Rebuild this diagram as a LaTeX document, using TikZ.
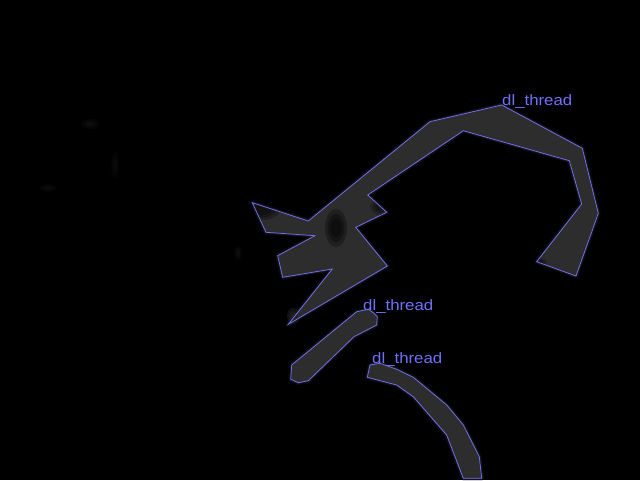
\documentclass[tikz,border=0pt]{standalone}
\usepackage{fontspec}
\setmainfont{Liberation Sans}
\begin{document}
\begin{tikzpicture}[x=1pt,y=-1pt,
  outl/.style={draw=lblue,line width=0.75pt,line join=miter},
  band/.style={fill=bandgray},
  soft/.style={draw=bandgray,line join=round,line cap=round},
  lbl/.style={text=lblue,anchor=base west,inner sep=0pt,font=\fontsize{15}{15}\selectfont,xscale=1.12}]
\definecolor{lblue}{RGB}{112,112,250}
\definecolor{bandgray}{RGB}{45,45,45}
\useasboundingbox (0,0) rectangle (640,480);
\fill[black] (0,0) rectangle (640,480);
% faint smudges on left
\foreach \s in {1,0.7,0.45}{
  \fill[white,opacity=0.02] (90,124) ellipse ({9*\s} and {5*\s});
  \fill[white,opacity=0.015] (115,165) ellipse ({4*\s} and {13*\s});
  \fill[white,opacity=0.015] (48,188) ellipse ({9*\s} and {4*\s});
  \fill[white,opacity=0.02] (238,253) ellipse ({4*\s} and {7*\s});
}
% big shape
\def\bigpoly{(501.7,105) -- (582.3,148.3) -- (598.3,213.3) -- (576,276) -- (536.7,261.7) -- (581.7,204) -- (569.3,160.7) -- (463.3,130.7) -- (367.7,195) -- (386.7,212.3) -- (355.7,227.3) -- (387.3,266) -- (288.3,324.3) -- (332.3,269) -- (282.7,277.3) -- (277.7,255.7) -- (315,235.7) -- (266,232.3) -- (252.3,202.7) -- (308.3,221) -- (430,121.7) -- cycle}
\def\midpoly{(356.7,311.7) -- (368.3,309.3) -- (373.3,312.7) -- (377.3,316.7) -- (376.7,325) -- (354,336.7) -- (308.3,380.7) -- (298.3,382.7) -- (290.7,379.3) -- (291.7,365) -- cycle}
\def\lowpoly{(370,365) -- (380,363.3) -- (396.7,369.3) -- (413.3,377.3) -- (446.7,405) -- (463.3,425) -- (479.3,456.7) -- (481.7,478.3) -- (463.3,478.3) -- (446.7,435) -- (413.3,396.7) -- (396.7,385) -- (367.3,377.3) -- cycle}
\foreach \w/\o in {5/0.2,2.5/0.4}{
  \draw[soft,line width=\w pt,opacity=\o] \bigpoly;
  \draw[soft,line width=\w pt,opacity=\o] \midpoly;
  \draw[soft,line width=\w pt,opacity=\o] \lowpoly;
}
\fill[band] \bigpoly;
\fill[band] \midpoly;
\fill[band] \lowpoly;
% dim the spikes that the grey band does not fill
\begin{scope}
\clip \bigpoly;
\foreach \s in {1,0.75,0.5}{
  \fill[black,opacity=0.25] (262,210) ellipse ({18*\s} and {10*\s});
  \fill[black,opacity=0.2] (380,207) ellipse ({10*\s} and {8*\s});
  \fill[black,opacity=0.25] (292,318) ellipse ({6*\s} and {8*\s});
  \fill[black,opacity=0.3] (336,228) ellipse ({11*\s} and {19*\s});
  \fill[black,opacity=0.2] (540,262) ellipse ({7*\s} and {4*\s});
}
\end{scope}
% extra grey below spike tip
\foreach \s in {1,0.6}{
  \fill[bandgray,opacity=0.4] (293,316) ellipse ({6*\s} and {8*\s});
}
% outlines
\draw[outl] \bigpoly;
\draw[outl] \midpoly;
\draw[outl] \lowpoly;
% labels
\node[lbl] (l1) at (502,105) {dl\_thread};
\node[lbl] (l2) at (363,310) {dl\_thread};
\node[lbl] (l3) at (372,363) {dl\_thread};
\end{tikzpicture}
\end{document}
